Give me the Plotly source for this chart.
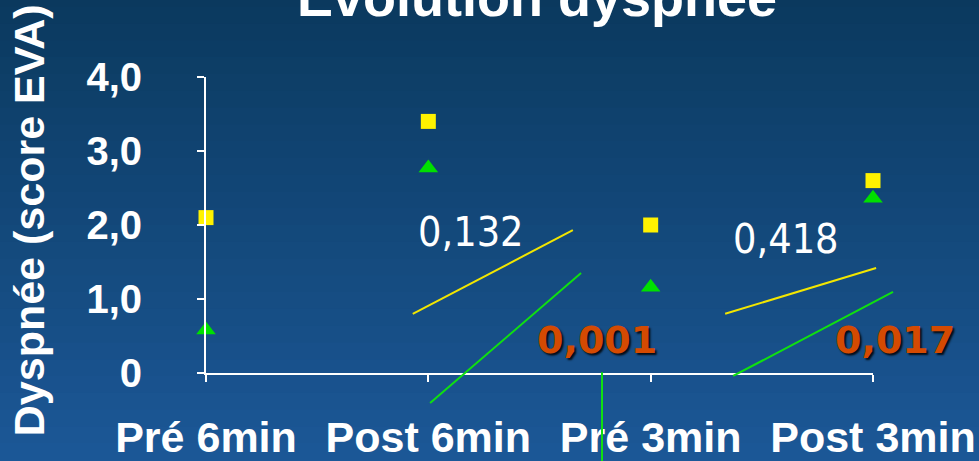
import plotly.graph_objects as go

# données
categories = ["Pré 6min", "Post 6min", "Pré 3min", "Post 3min"]
x_pos = [0, 1, 2, 3]
serie_jaune = [2.1, 3.4, 2.0, 2.6]
serie_verte = [0.58, 2.77, 1.16, 2.36]
y_ticks = [0, 1, 2, 3, 4]
y_tick_labels = ["0", "1,0", "2,0", "3,0", "4,0"]

# p-values
p_textes = ["0,132", "0,418", "0,001", "0,017"]
p_gras = [False, False, True, True]
p_x = [1.19, 2.61, 1.76, 3.10]
p_y = [1.90, 1.81, 0.45, 0.45]

# segments (x0, y0, x1, y1) en unités des axes
segments_jaunes = [(0.93, 0.80, 1.65, 1.93), (2.335, 0.80, 3.014, 1.42)]
segments_verts = [(1.008, -0.405, 1.687, 1.35), (1.781, 0.01, 1.781, -1.20),
                  (2.371, -0.04, 3.09, 1.095)]

x_range = [0, 3]
y_range = [0, 4]


def dom_x(v):
    return (v - x_range[0]) / (x_range[1] - x_range[0])


def dom_y(v):
    return (v - y_range[0]) / (y_range[1] - y_range[0])


fig = go.Figure()

fig.add_trace(go.Scatter(x=x_pos, y=serie_jaune, mode="markers", cliponaxis=False,
                         marker=dict(symbol="square", size=15, color="#FFF200",
                                     line=dict(width=0)),
                         showlegend=False))
fig.add_trace(go.Scatter(x=x_pos, y=serie_verte, mode="markers", cliponaxis=False,
                         marker=dict(symbol="triangle-up", size=17, color="#00E000",
                                     line=dict(width=0)),
                         showlegend=False))

# fond dégradé
shapes = []
n = 30
c_haut = (10, 56, 92)
c_bas = (28, 88, 152)
y_haut, y_bas = 1.35, -0.35
for i in range(n):
    t = i / (n - 1)
    c = tuple(round(a + (b - a) * t) for a, b in zip(c_haut, c_bas))
    h = (y_haut - y_bas) / n
    shapes.append(dict(type="rect", xref="paper", yref="paper",
                       x0=-0.4, x1=1.25,
                       y0=y_haut - (i + 1) * h - 0.002, y1=y_haut - i * h,
                       fillcolor="rgb(%d,%d,%d)" % c, line=dict(width=0),
                       layer="below"))


def seg(s, couleur):
    x0, y0, x1, y1 = s
    return dict(type="line", xref="x domain", yref="y domain",
                x0=dom_x(x0), y0=dom_y(y0), x1=dom_x(x1), y1=dom_y(y1),
                line=dict(color=couleur, width=2))


for s in segments_jaunes:
    shapes.append(seg(s, "#F2E600"))
for s in segments_verts:
    shapes.append(seg(s, "#10E010"))

annotations = []
for txt, gras, x, y in zip(p_textes, p_gras, p_x, p_y):
    if gras:
        font = dict(family="DejaVu Sans", size=38, color="#D44A02", weight="bold",
                    shadow="2px 2px 2px rgba(0,0,0,0.85)")
    else:
        font = dict(family="DejaVu Sans Condensed, Liberation Sans", size=41, color="white")
    annotations.append(dict(x=dom_x(x), y=dom_y(y), xref="x domain", yref="y domain",
                            xanchor="center", yanchor="middle",
                            text=txt, showarrow=False, font=font))

annotations.append(dict(text="<b>Evolution dyspnée</b>", x=0.497, y=1.163, xref="paper",
                        yref="paper", xanchor="center", yanchor="bottom", showarrow=False,
                        font=dict(family="Liberation Sans", size=54, color="white")))
annotations.append(dict(text="<b>Dyspnée (score EVA)</b>", x=-0.265, y=0.517, xref="paper",
                        yref="paper", xanchor="center", yanchor="middle", textangle=-90,
                        showarrow=False,
                        font=dict(family="Liberation Sans", size=43, color="white")))

fig.update_layout(
    width=979, height=461,
    margin=dict(l=206, r=106, t=77, b=88, autoexpand=False),
    paper_bgcolor="#174d86",
    plot_bgcolor="rgba(0,0,0,0)",
    shapes=shapes,
    annotations=annotations,
    showlegend=False,
)
fig.update_xaxes(range=x_range, tickvals=x_pos, ticktext=categories, automargin=False,
                 showgrid=False, zeroline=False, showline=True, linecolor="white",
                 linewidth=2, ticks="outside", ticklen=7, tickwidth=2, tickcolor="white",
                 ticklabelstandoff=18,
                 tickfont=dict(family="Liberation Sans", size=43, color="white",
                               weight="bold"))
fig.update_yaxes(range=y_range, tickvals=y_ticks, ticktext=y_tick_labels, automargin=False,
                 showgrid=False, zeroline=False, showline=True, linecolor="white",
                 linewidth=2, ticks="outside", ticklen=7, tickwidth=2, tickcolor="white",
                 ticklabelstandoff=47,
                 tickfont=dict(family="Liberation Sans", size=40, color="white",
                               weight="bold"))

fig.write_html("out.html", config={"displayModeBar": False},
               post_script="document.body.style.margin='0';"
                           "document.body.style.overflow='hidden';")
